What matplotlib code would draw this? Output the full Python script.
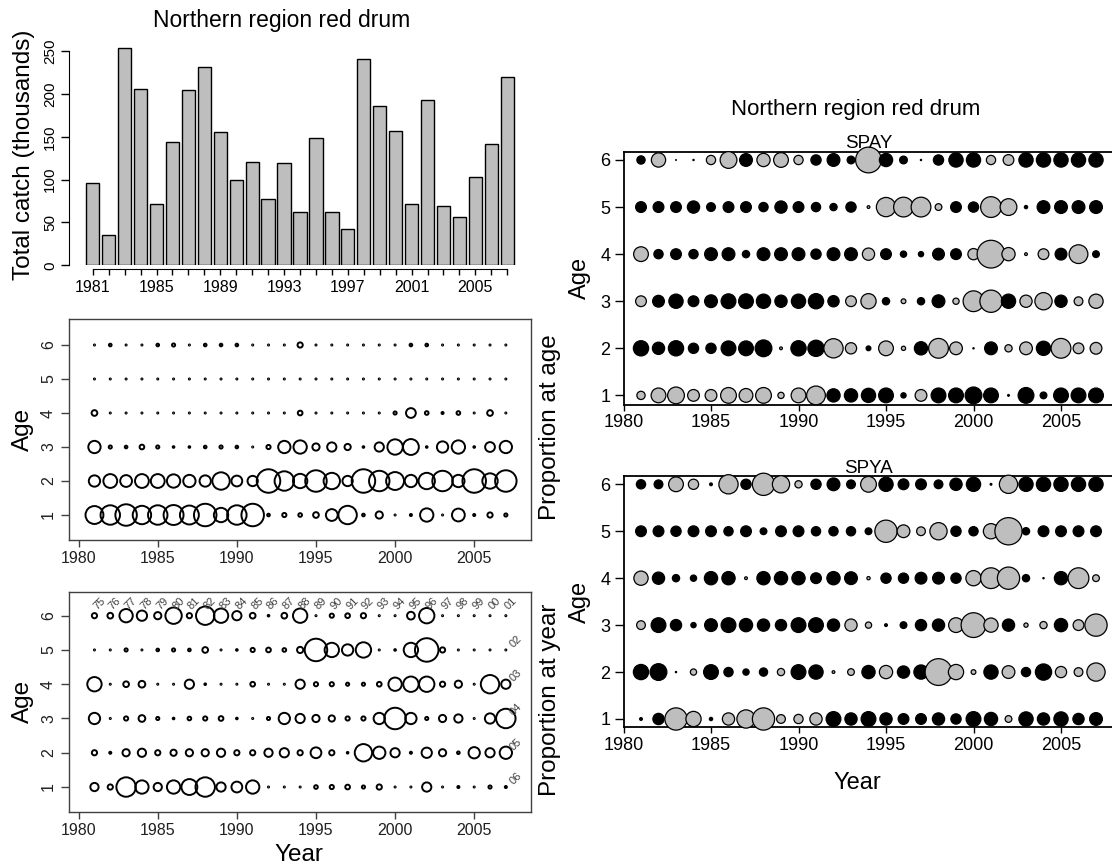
import numpy as np
import matplotlib.pyplot as plt

plt.rcParams['font.family'] = ['Liberation Sans', 'DejaVu Sans']

W, H = 1112, 867

years = np.arange(1981, 2008)
ages = [1, 2, 3, 4, 5, 6]

# total catch (thousands) by year
catch = [96, 35, 253, 206, 72, 144, 204, 231, 155, 100, 121, 77, 119, 62,
         149, 62, 42, 241, 186, 157, 72, 193, 69, 56, 103, 142, 220]

# proportion at age (rows = age 1..6, columns = 1981..2007)
prop_at_age = [
    [0.485, 0.563, 0.675, 0.510, 0.563, 0.590, 0.536, 0.735, 0.327, 0.563, 0.735, 0.026, 0.046, 0.039,
     0.072, 0.232, 0.510, 0.026, 0.103, 0.008, 0.020, 0.287, 0.008, 0.268, 0.020, 0.063, 0.032],
    [0.216, 0.306, 0.232, 0.306, 0.306, 0.287, 0.250, 0.216, 0.460, 0.199, 0.184, 0.797, 0.563, 0.327,
     0.675, 0.413, 0.184, 0.797, 0.617, 0.485, 0.250, 0.413, 0.617, 0.250, 0.797, 0.369, 0.675],
    [0.250, 0.032, 0.026, 0.054, 0.032, 0.016, 0.016, 0.026, 0.032, 0.026, 0.005, 0.046, 0.250, 0.287,
     0.103, 0.154, 0.082, 0.016, 0.154, 0.369, 0.391, 0.016, 0.216, 0.287, 0.016, 0.169, 0.250],
    [0.072, 0.008, 0.008, 0.008, 0.003, 0.003, 0.011, 0.003, 0.003, 0.003, 0.008, 0.003, 0.003, 0.054,
     0.008, 0.011, 0.011, 0.003, 0.003, 0.032, 0.169, 0.039, 0.020, 0.039, 0.003, 0.072, 0.011],
    [0.003, 0.003, 0.003, 0.003, 0.003, 0.003, 0.003, 0.003, 0.003, 0.003, 0.003, 0.003, 0.003, 0.003,
     0.003, 0.008, 0.008, 0.003, 0.003, 0.003, 0.008, 0.003, 0.003, 0.003, 0.003, 0.003, 0.003],
    [0.011, 0.026, 0.011, 0.011, 0.026, 0.032, 0.003, 0.026, 0.026, 0.026, 0.011, 0.003, 0.011, 0.063,
     0.003, 0.011, 0.011, 0.003, 0.003, 0.003, 0.026, 0.026, 0.003, 0.003, 0.003, 0.003, 0.003],
]

# proportion at year (rows = age 1..6, columns = 1981..2007)
prop_at_year = [
    [0.128, 0.063, 0.563, 0.287, 0.128, 0.287, 0.391, 0.563, 0.154, 0.199, 0.287, 0.005, 0.011, 0.011,
     0.039, 0.046, 0.054, 0.032, 0.063, 0.008, 0.008, 0.154, 0.003, 0.020, 0.008, 0.032, 0.020],
    [0.063, 0.020, 0.103, 0.128, 0.063, 0.082, 0.103, 0.103, 0.128, 0.063, 0.063, 0.128, 0.154, 0.063,
     0.199, 0.063, 0.016, 0.460, 0.250, 0.154, 0.020, 0.184, 0.103, 0.026, 0.216, 0.154, 0.250],
    [0.216, 0.008, 0.046, 0.092, 0.032, 0.016, 0.039, 0.046, 0.054, 0.016, 0.003, 0.032, 0.216, 0.154,
     0.103, 0.082, 0.046, 0.046, 0.216, 0.675, 0.216, 0.032, 0.103, 0.128, 0.011, 0.184, 0.563],
    [0.327, 0.008, 0.072, 0.092, 0.008, 0.008, 0.154, 0.016, 0.008, 0.005, 0.054, 0.008, 0.003, 0.154,
     0.046, 0.046, 0.032, 0.032, 0.054, 0.287, 0.369, 0.369, 0.063, 0.103, 0.005, 0.510, 0.154],
    [0.011, 0.008, 0.032, 0.005, 0.026, 0.032, 0.026, 0.072, 0.005, 0.016, 0.046, 0.054, 0.039, 0.082,
     0.735, 0.327, 0.216, 0.369, 0.005, 0.016, 0.327, 0.797, 0.063, 0.003, 0.003, 0.003, 0.003],
    [0.063, 0.072, 0.287, 0.184, 0.103, 0.413, 0.063, 0.510, 0.327, 0.154, 0.072, 0.016, 0.072, 0.327,
     0.011, 0.046, 0.054, 0.063, 0.011, 0.008, 0.115, 0.369, 0.003, 0.003, 0.003, 0.003, 0.003],
]

# residuals (positive = black, negative = grey), rows = age 1..6
spay = [
    [-0.95, -1.6, -1.8, -1.3, -1.3, -1.7, -1.5, -1.7, -0.75, -1.6, -2.0, 1.45, 1.45, 1.55,
     1.6, 0.65, -1.3, 1.6, 1.6, 1.8, 1.6, 0.3, 1.7, 0.8, 1.6, 1.6, 1.6],
    [1.65, 1.35, 1.65, 1.15, 1.15, 1.6, 1.6, 1.8, -0.4, 1.65, 1.75, -2.05, -1.25, 0.6,
     -1.6, -0.55, 1.45, -2.1, -1.4, 0.25, 1.4, -0.85, -1.4, 1.55, -2.1, -1.2, -1.3],
    [-1.2, 1.3, 1.55, 1.2, 1.4, 1.6, 1.6, 1.55, 1.35, 1.55, 1.65, 1.25, -1.2, -1.65,
     0.85, -0.6, 0.85, 1.4, -0.75, -2.2, -2.35, 1.55, -1.35, -1.85, 1.35, -1.0, -1.55],
    [-1.6, 1.05, 1.2, 1.05, 1.4, 1.4, 0.85, 1.4, 1.4, 1.4, 1.15, 1.4, 1.4, -1.35,
     1.2, 0.75, 0.65, 1.3, 1.2, -1.25, -2.9, -1.45, -0.4, -1.2, 1.3, -2.0, 0.8],
    [1.2, 1.2, 1.2, 1.35, 1.0, 1.2, 1.2, 1.05, 1.35, 1.2, 1.05, 0.85, 1.15, -0.4,
     -2.05, -2.1, -2.1, -0.8, 1.2, 1.15, -2.2, -1.8, 0.45, 1.4, 1.4, 1.4, 1.4],
    [0.95, -1.55, 0.2, 0.25, -1.05, -1.8, 1.4, -1.45, -1.6, -1.05, 1.15, 1.4, 0.9, -2.7,
     1.45, 0.9, 0.25, 1.15, 1.55, 1.55, -1.05, -1.2, 1.55, 1.55, 1.55, 1.55, 1.55],
]

spya = [
    [0.4, 1.25, -2.35, -1.65, 0.45, -1.35, -1.95, -2.35, -1.0, -1.05, -1.35, 1.6, 1.35, 1.6,
     1.35, 1.2, 1.2, 1.35, 1.15, 1.6, 1.45, -0.8, 1.55, 1.35, 1.55, 1.25, 1.4],
    [1.65, 1.8, 0.25, -0.75, 1.6, 1.05, 0.75, 0.95, -0.85, 1.6, 1.55, -0.4, -0.8, 1.45,
     -1.45, 1.35, 1.55, -2.8, -1.65, -0.6, 1.55, -1.4, 1.05, 1.75, -1.25, -1.0, -1.95],
    [-1.0, 1.6, 1.25, 0.65, 1.4, 1.6, 1.45, 1.35, 1.25, 1.6, 1.6, 1.35, -1.35, -0.75,
     0.4, 0.8, 1.25, 1.35, -1.6, -2.6, -1.55, 1.35, -0.55, -0.85, 1.45, -1.2, -2.35],
    [-1.55, 1.35, 0.85, 0.75, 1.45, 1.45, -0.4, 1.45, 1.45, 1.45, 1.2, 1.45, 1.4, -0.45,
     1.15, 1.15, 1.3, 1.3, 1.15, -1.65, -2.2, -2.35, 0.85, 0.25, 1.45, -2.2, -0.8],
    [1.2, 1.2, 1.15, 1.2, 1.2, 1.05, 1.2, 0.8, 1.2, 1.2, 1.05, 1.05, 1.05, 0.8,
     -2.35, -1.4, -1.0, -1.85, 1.15, 1.05, -1.65, -2.85, 0.85, 1.2, 1.2, 1.2, 1.2],
    [1.05, 1.0, -1.6, -1.15, 0.4, -2.05, 1.15, -2.35, -1.85, -0.85, 1.15, 1.4, 1.0, -1.7,
     1.55, 1.2, 1.2, 1.0, 1.35, 1.55, 0.3, -1.95, 1.55, 1.55, 1.55, 1.55, 1.55],
]

bar_labels = ['1981', '1985', '1989', '1993', '1997', '2001', '2005']

GREY = '#BEBEBE'


def px_axes(l, t, r, b):
    return fig.add_axes([l / W, 1 - b / H, (r - l) / W, (b - t) / H])


def ftext(x, y, s, **kw):
    kw.setdefault('ha', 'center')
    kw.setdefault('va', 'center')
    fig.text(x / W, 1 - y / H, s, **kw)


def prop_sizes(v, lw):
    # circle diameter (px) grows with sqrt of the proportion
    d = 28.5 * np.sqrt(np.asarray(v, float))
    path = np.maximum(d - lw / 0.72, 1.1)
    return (path * 0.72) ** 2


def resid_sizes(r, lw):
    d = 10 * np.abs(np.asarray(r, float))
    path = np.maximum(d - lw / 0.72, 0.6)
    return (path * 0.72) ** 2


fig = plt.figure(figsize=(W / 100, H / 100), dpi=100)

# ---- total catch barplot
ax = px_axes(69, 38.2, 531, 265.3)
xb = 0.7 + 1.2 * np.arange(len(catch))
ax.bar(xb, catch, width=1.0, color=GREY, edgecolor='black', linewidth=1.0)
ax.set_xlim(-1.088, 33.688)
ax.set_ylim(0, 265)
for s in ['top', 'right']:
    ax.spines[s].set_visible(False)
ax.spines['left'].set_bounds(0, 250)
ax.spines['bottom'].set_bounds(xb[0], xb[-1])
ax.spines['bottom'].set_position(('outward', 3))
ax.set_yticks(range(0, 251, 50))
ax.set_yticklabels([str(v) for v in range(0, 251, 50)], rotation=90, va='center')
ax.set_xticks(xb)
ax.set_xticklabels([str(y) if str(y) in bar_labels else '' for y in years])
ax.tick_params(axis='y', length=5.5, width=1, labelsize=11, pad=3)
ax.tick_params(axis='x', length=4, width=1, labelsize=11.5, pad=3.5)
ftext(282, 20, 'Northern region red drum', fontsize=16.5)
ftext(24, 155, 'Total catch (thousands)', rotation=90, fontsize=17.5)

# ---- proportion panels (open circles)
BOX = '#404040'
left_panels = [
    (prop_at_age, (69.3, 319, 531, 540), (0.265, 6.765), 429.5),
    (prop_at_year, (69.3, 591.7, 531, 811.7), (0.28, 6.70), 701.7),
]
axes_left = []
for data, box, ylim, yc in left_panels:
    a = px_axes(*box)
    lw = 1.4
    for age, row in zip(ages, data):
        a.scatter(years, np.full(len(years), age), s=prop_sizes(row, lw),
                  facecolors='none', edgecolors='black', linewidths=lw, clip_on=False, zorder=3)
    a.set_xlim(1979.41, 2008.59)
    a.set_ylim(*ylim)
    a.set_xticks(range(1980, 2006, 5))
    a.set_yticks(ages)
    a.set_yticklabels([str(v) for v in ages], rotation=90, va='center')
    for s in a.spines.values():
        s.set_color(BOX)
        s.set_linewidth(1.0)
    a.tick_params(axis='both', colors=BOX, labelcolor='#202020', labelsize=11.5, width=1)
    a.tick_params(axis='x', length=4.8, pad=3)
    a.tick_params(axis='y', length=5.5, pad=4)
    ftext(23, yc, 'Age', rotation=90, fontsize=17.5)
    axes_left.append(a)

# cohort labels on the proportion-at-year panel
a = axes_left[1]
for y in years:
    a.text(y + 0.3, 6.36, '%02d' % ((y - 6) % 100), rotation=45, fontsize=8,
           color='#404040', ha='center', va='center')
for age in ages[:5]:
    a.text(years[-1] + 0.65, age + 0.25, '%02d' % ((years[-1] - age) % 100), rotation=45,
           fontsize=8, color='#404040', ha='center', va='center')
ftext(299, 855, 'Year', fontsize=17.5)
ftext(550, 427, 'Proportion at age', rotation=90, fontsize=17.5)
ftext(550, 700, 'Proportion at year', rotation=90, fontsize=17.5)

# ---- residual panels (SPAY / SPYA)
right_panels = [
    (spay, (623.5, 151.7, 1113.5, 405), (0.796, 6.176), 'SPAY', 143.3, 278),
    (spya, (623.5, 476, 1113.5, 727.3), (0.823, 6.177), 'SPYA', 468.3, 601.6),
]
for data, box, ylim, name, ty, yc in right_panels:
    a = px_axes(*box)
    xs, ys, rs = [], [], []
    for j, y in enumerate(years):
        for i, age in enumerate(ages):
            xs.append(y)
            ys.append(age)
            rs.append(data[i][j])
    rs = np.array(rs)
    lw = 0.9
    a.scatter(xs, ys, s=resid_sizes(rs, lw), c=np.where(rs > 0, 'black', GREY),
              edgecolors='black', linewidths=lw, clip_on=False, zorder=3)
    a.set_xlim(1980, 2008)
    a.set_ylim(*ylim)
    a.set_xticks(range(1980, 2006, 5))
    a.set_yticks(ages)
    for s in a.spines.values():
        s.set_linewidth(1.3)
    a.tick_params(axis='both', labelsize=13, width=1)
    a.tick_params(axis='x', length=4.3, pad=2.5)
    a.tick_params(axis='y', length=6.5, pad=3)
    ftext(868.5, ty, name, fontsize=13.5)
    ftext(580, yc, 'Age', rotation=90, fontsize=17)

ftext(856, 109.3, 'Northern region red drum', fontsize=16)
ftext(857.6, 783.3, 'Year', fontsize=17)

fig.savefig('out.png', dpi=100)
